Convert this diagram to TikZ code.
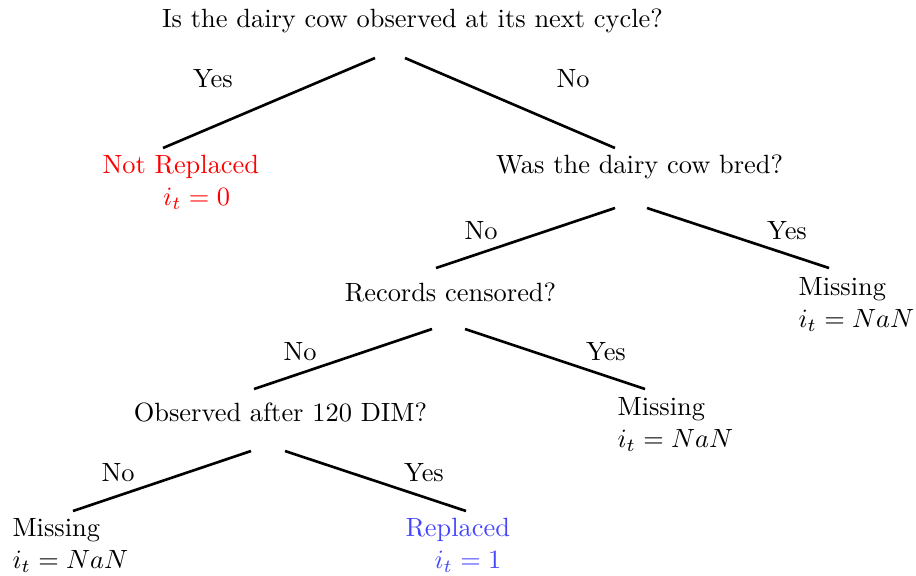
\documentclass[tikz,border=0pt]{standalone}
\usepackage{tikz}
\usetikzlibrary{calc}
\definecolor{repblue}{RGB}{70,70,255}

\begin{document}
\begin{tikzpicture}[x=0.3788pt, y=-0.3788pt, branch/.style={line width=1pt, draw=black}]
			\tikzstyle{question}=[inner sep=0pt, anchor=base]
			\tikzstyle{leaf}=[inner sep=0pt, anchor=north west, align=left]
			\tikzstyle{answer}=[inner sep=0pt]
			\useasboundingbox (0,0) rectangle (916,575);
			
			% Draw questions
			\node[question] (cycle) at (412.5,27) {Is the dairy cow observed at its next cycle?};
			\node[question] (bred) at (639.5,173) {Was the dairy cow bred?};
			\node[question] (censored) at (450.5,301) {Records censored?};
			\node[question] (dim) at (280.5,421) {Observed after 120 DIM?};
			
			% Draw outcomes
			\node[leaf,text=red] (notrep) at (102,155) {Not Replaced \\ \hspace*{23pt}$i_t = 0$};
			\node[leaf] (miss1) at (798,277) {Missing \\ $i_t = NaN$};
			\node[leaf] (miss2) at (617,397) {Missing \\ $i_t = NaN$};
			\node[leaf] (miss3) at (12,518) {Missing \\ $i_t = NaN$};
			\node[leaf,text=repblue] (rep) at (405,518) {Replaced \\ \hspace*{11pt}$i_t = 1$};
			
			% Draw branches
			\path[branch] ($(cycle.base)+(-37.5,31)$) edge ($(notrep.north west)+(61,-7)$);
			\path[branch] ($(cycle.base)+(-7.5,31)$) edge ($(bred.base)+(-24.5,-25)$);
			\path[branch] ($(bred.base)+(-24.5,35)$) edge ($(censored.base)+(-14.5,-33)$);
			\path[branch] ($(bred.base)+(7.5,35)$) edge ($(miss1.north west)+(31,-9)$);
			\path[branch] ($(censored.base)+(-18.5,28)$) edge ($(dim.base)+(-26.5,-32)$);
			\path[branch] ($(censored.base)+(14.5,28)$) edge ($(miss2.north west)+(28,-8)$);
			\path[branch] ($(dim.base)+(-29.5,30)$) edge ($(miss3.north west)+(61,-7)$);
			\path[branch] ($(dim.base)+(4.5,30)$) edge ($(rep.north west)+(61,-7)$);
			
			% Branch labels
			\node[answer] (a1) at (213,79) {Yes};
			\node[answer] (a2) at (573,79) {No};
			\node[answer] (a3) at (481,231) {No};
			\node[answer] (a4) at (787,231) {Yes};
			\node[answer] (a5) at (300,352) {No};
			\node[answer] (a6) at (606,352) {Yes};
			\node[answer] (a7) at (118,473) {No};
			\node[answer] (a8) at (424,473) {Yes};
			
		\end{tikzpicture}
\end{document}
